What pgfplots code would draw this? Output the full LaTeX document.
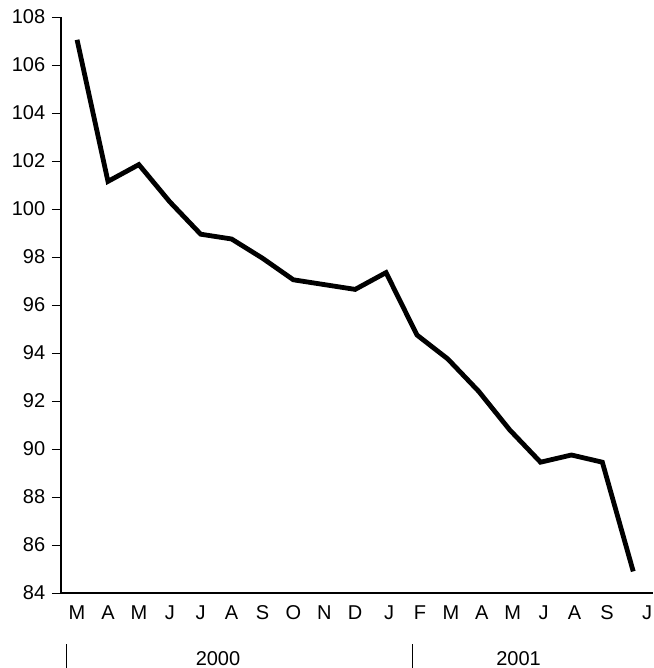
\documentclass[border=0pt]{standalone}
\usepackage{fontspec}
\setmainfont{Liberation Sans}
\usepackage{pgfplots}
\pgfplotsset{compat=1.18}
\begin{document}
\fontsize{20}{24}\selectfont
\begin{tikzpicture}
\begin{axis}[
  at={(0,0)}, anchor=south west,
  scale only axis, width=592pt, height=576pt,
  xmin=-0.52, xmax=18.64, ymin=84, ymax=108,
  axis x line=bottom, axis y line=left,
  axis line style={-, line width=1.1pt, black},
  ytick={84,86,...,108},
  xtick={0,1,2,3,4,5,6,7,8,9,10.1,11.1,12.1,13.1,14.1,15.1,16.1,17.15,18.45},
  xticklabels={M,A,M,J,J,A,S,O,N,D,J,F,M,A,M,J,A,S,J},
  tick align=outside, major tick length=9pt,
  ytick style={line width=0.9pt, black},
  xtick style={draw=none},
  /pgf/number format/assume math mode=true,
  ticklabel style={font=\fontsize{20}{24}\selectfont, text=black},
  xticklabel style={yshift=3.7pt, text height=14.3pt, text depth=0pt},
  clip=false,
]
\addplot[line width=4.8pt, black, line join=miter] coordinates {
 (0,107.05) (1,101.15) (2,101.85) (3,100.3) (4,98.95) (5,98.75) (6,97.95)
 (7,97.05) (8,96.85) (9,96.65) (10,97.35) (11,94.75) (12,93.75) (13,92.4)
 (14,90.8) (15,89.45) (16,89.75) (17,89.45) (18,84.9)
};
\end{axis}
\draw[line width=0.8pt] (5pt,-51pt) -- (5pt,-75pt);
\draw[line width=0.8pt] (351pt,-51pt) -- (351pt,-75pt);
\node[font=\fontsize{20}{24}\selectfont, inner sep=0pt, text height=14.3pt, text depth=0pt, anchor=center] at (157pt,-65pt) {2000};
\node[font=\fontsize{20}{24}\selectfont, inner sep=0pt, text height=14.3pt, text depth=0pt, anchor=center] at (457.5pt,-65pt) {2001};
\pgfresetboundingbox
\path[use as bounding box] (-61pt,-75pt) rectangle (592pt,593pt);
\end{tikzpicture}
\end{document}
